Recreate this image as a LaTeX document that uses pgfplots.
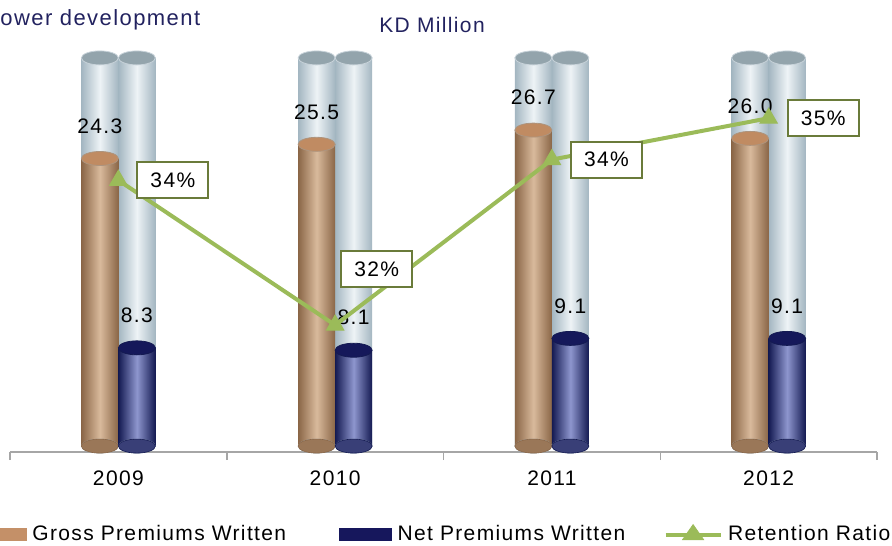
\documentclass[border=0pt]{standalone}
\usepackage{fontspec}
\setmainfont{Liberation Sans}[LetterSpace=6.5]
\usepackage{pgfplots}
\usepackage{pgfplotstable}
\pgfplotsset{compat=1.18}
\pgfkeys{/pgf/number format/assume math mode=true}

\definecolor{grayedge}{HTML}{A3B6C1}
\definecolor{graymid}{HTML}{EEF3F6}
\definecolor{graytop}{HTML}{93A4AC}
\definecolor{brownedge}{HTML}{8A6647}
\definecolor{brownmid}{HTML}{D9BA9C}
\definecolor{browntop}{HTML}{C08B62}
\definecolor{navyedge}{HTML}{141A52}
\definecolor{navymid}{HTML}{8E96CE}
\definecolor{navytop}{HTML}{15185A}
\definecolor{lgreen}{HTML}{9BBB59}
\definecolor{boxgreen}{HTML}{6A7B3A}
\definecolor{titlenavy}{HTML}{22225F}
\definecolor{axgray}{HTML}{A6A6A6}
\definecolor{legbrown}{HTML}{C49068}
\definecolor{legnavy}{HTML}{16175C}

\pgfdeclareplotmark{cyl}{%
  \pgfpathellipse{\pgfpointorigin}{\pgfqpoint{9.25pt}{0pt}}{\pgfqpoint{0pt}{3.5pt}}%
  \pgfusepathqfillstroke}

\pgfplotstableread{
idx gross net ratio bg
0 24.3 8.3 34.1 32.8
1 25.5 8.1 32.0 32.8
2 26.7 9.1 34.4 32.8
3 26.0 9.1 35.0 32.8
}\data

\newcommand{\lblfont}{\fontsize{10.5}{12}\selectfont}

\begin{document}
\begin{tikzpicture}
\begin{axis}[name=ax, scale only axis, width=433.5pt, height=200pt,
  xmin=-0.5, xmax=3.5, ymin=-0.5, ymax=33.3, clip=false,
  axis x line*=bottom, axis y line=none,
  x axis line style={axgray, line width=0.75pt},
  xtick={0,1,2,3}, xticklabels={2009,2010,2011,2012},
  major tick length=0pt,
  minor xtick={-0.5,0.5,1.5,2.5,3.5}, minor tick length=4pt,
  tick align=outside, minor tick style={axgray, line width=0.75pt},
  xticklabel style={font=\lblfont, yshift=-6pt},
  legend columns=3, legend cell align=left,
  legend style={at={(axis description cs:0,0)}, anchor=west, xshift=-18pt, yshift=-41pt,
    draw=none, fill=none, inner sep=0pt, outer sep=0pt, font=\lblfont,
    nodes={inner sep=0pt, outer sep=0pt}, column sep=0pt,
    /tikz/every odd column/.append style={column sep=2.75pt}},
]
% background cylinders
\addplot[forget plot, only marks, mark=cyl, mark options={fill=grayedge!80!white, draw=grayedge, line width=0.3pt}]
  table[x expr=\thisrow{idx}-0.0854, y expr=0]{\data};
\addplot[forget plot, only marks, mark=cyl, mark options={fill=grayedge!80!white, draw=grayedge, line width=0.3pt}]
  table[x expr=\thisrow{idx}+0.0854, y expr=0]{\data};
\pgfplotsinvokeforeach{-0.5:0.5, 0.5:1.5, 1.5:2.5, 2.5:3.5}{
\addplot[forget plot, ybar, bar width=18.5pt, bar shift=0pt, draw=none, restrict x to domain=#1,
  left color=grayedge, right color=grayedge, middle color=graymid]
  table[x expr=\thisrow{idx}-0.0854, y=bg]{\data};
\addplot[forget plot, ybar, bar width=18.5pt, bar shift=0pt, draw=none, restrict x to domain=#1,
  left color=grayedge, right color=grayedge, middle color=graymid]
  table[x expr=\thisrow{idx}+0.0854, y=bg]{\data};
}
\addplot[forget plot, only marks, mark=cyl, mark options={fill=graytop, draw=grayedge!60!white, line width=0.4pt}]
  table[x expr=\thisrow{idx}-0.0854, y=bg]{\data};
\addplot[forget plot, only marks, mark=cyl, mark options={fill=graytop, draw=grayedge!60!white, line width=0.4pt}]
  table[x expr=\thisrow{idx}+0.0854, y=bg]{\data};
% gross
\addplot[forget plot, only marks, mark=cyl, mark options={fill=brownedge!80!brownmid, draw=brownedge, line width=0.3pt}]
  table[x expr=\thisrow{idx}-0.0854, y expr=0]{\data};
\pgfplotsinvokeforeach{-0.5:0.5, 0.5:1.5, 1.5:2.5, 2.5:3.5}{
\addplot[forget plot, ybar, bar width=18.5pt, bar shift=0pt, draw=none, restrict x to domain=#1,
  left color=brownedge, right color=brownedge, middle color=brownmid]
  table[x expr=\thisrow{idx}-0.0854, y=gross]{\data};
}
\addplot[forget plot, only marks, mark=cyl, mark options={fill=browntop, draw=brownedge!70!white, line width=0.4pt},
  nodes near coords, /pgf/number format/fixed, /pgf/number format/fixed zerofill, /pgf/number format/precision=1,
  every node near coord/.append style={font=\lblfont, text=black, anchor=south, yshift=9pt}]
  table[x expr=\thisrow{idx}-0.0854, y=gross]{\data};
% net
\addplot[forget plot, only marks, mark=cyl, mark options={fill=navyedge!70!navymid, draw=navyedge, line width=0.3pt}]
  table[x expr=\thisrow{idx}+0.0854, y expr=0]{\data};
\pgfplotsinvokeforeach{-0.5:0.5, 0.5:1.5, 1.5:2.5, 2.5:3.5}{
\addplot[forget plot, ybar, bar width=18.5pt, bar shift=0pt, draw=none, restrict x to domain=#1,
  left color=navyedge, right color=navyedge, middle color=navymid]
  table[x expr=\thisrow{idx}+0.0854, y=net]{\data};
}
\addplot[forget plot, only marks, mark=cyl, mark options={fill=navytop, draw=navyedge, line width=0.4pt},
  nodes near coords, /pgf/number format/fixed, /pgf/number format/fixed zerofill, /pgf/number format/precision=1,
  every node near coord/.append style={font=\lblfont, text=black, anchor=south, yshift=9pt}]
  table[x expr=\thisrow{idx}+0.0854, y=net]{\data};
% legend
\addlegendimage{legend image code/.code={\fill[legbrown] (0pt,-3pt) rectangle (26pt,3pt);}}
\addlegendentry[text width=153.5pt]{Gross Premiums Written}
\addlegendimage{legend image code/.code={\fill[legnavy] (0pt,-3pt) rectangle (26pt,3pt);}}
\addlegendentry[text width=133pt]{Net Premiums Written}
\addlegendimage{legend image code/.code={\draw[lgreen, line width=2pt] (0pt,0pt) -- (27.5pt,0pt);
   \fill[lgreen] (13.75pt,5pt) -- (8.5pt,-2.5pt) -- (19pt,-2.5pt) -- cycle;}}
\addlegendentry[text width=100pt]{Retention Ratio}
\end{axis}

\begin{axis}[at={(ax.south west)}, anchor=south west, scale only axis, width=433.5pt, height=200pt,
  xmin=-0.5, xmax=3.5, ymin=30.16, ymax=35.96, hide axis, clip=false]
\addplot[lgreen, line width=2pt, mark=triangle*, mark size=5pt,
  mark options={fill=lgreen, draw=lgreen, line width=0.5pt}]
  table[x=idx, y=ratio]{\data};
\addplot[draw=none, mark=none, skip coords between index={1}{2},
  nodes near coords={\pgfmathprintnumber[fixed, precision=0]{\pgfplotspointmeta}\%},
  every node near coord/.append style={draw=boxgreen, line width=1pt, fill=white, text=black,
    font=\lblfont, minimum width=35.5pt, minimum height=18pt, inner sep=0pt,
    anchor=west, xshift=9pt, yshift=0pt}]
  table[x=idx, y=ratio]{\data};
\addplot[draw=none, mark=none, restrict x to domain=0.5:1.5,
  nodes near coords={\pgfmathprintnumber[fixed, precision=0]{\pgfplotspointmeta}\%},
  every node near coord/.append style={draw=boxgreen, line width=1pt, fill=white, text=black,
    font=\lblfont, minimum width=35.5pt, minimum height=18pt, inner sep=0pt,
    anchor=south west, xshift=2.5pt, yshift=18.5pt}]
  table[x=idx, y=ratio]{\data};
\end{axis}

\node[anchor=west, inner sep=0pt, text=titlenavy, font=\fontsize{11}{13}\selectfont]
  at ([xshift=-5pt, yshift=216pt]ax.south west) {ower development};
\node[inner sep=0pt, text=titlenavy, font=\fontsize{10.5}{12}\selectfont]
  at ([xshift=211pt, yshift=213.5pt]ax.south west) {KD Million};

\pgfresetboundingbox
\path ([xshift=-5pt, yshift=-46.5pt]ax.south west) rectangle ([xshift=441pt, yshift=226pt]ax.south west);
\end{tikzpicture}
\end{document}
